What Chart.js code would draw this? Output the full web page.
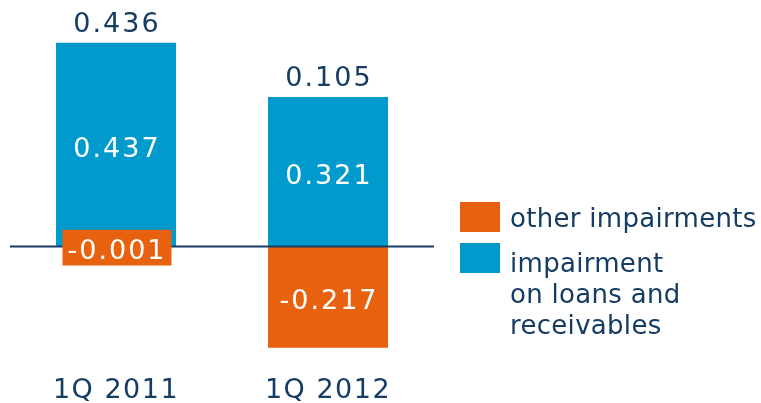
<!DOCTYPE html>
<html>
<head>
<meta charset="utf-8">
<script src="https://cdn.jsdelivr.net/npm/chart.js@4"></script>
<style>
  html, body { margin: 0; padding: 0; background: #fff; }
  #wrap { width: 761px; height: 403px; }
</style>
</head>
<body>
<div id="wrap"><canvas id="myChart" width="761" height="403"></canvas></div>
<script>
const categories = ['1Q 2011', '1Q 2012'];
const seriesNames = ['other impairments', 'impairment\non loans and\nreceivables'];
const otherImpairments = [-0.001, -0.217];
const loansImpairment = [0.437, 0.321];
const totals = [0.436, 0.105];

const navy = '#163c64';
const orange = '#e8610e';
const blue = '#009acd';
const numFont = '27px "DejaVu Sans"';

const labelsPlugin = {
  id: 'barLabels',
  afterDatasetsDraw(chart) {
    const ctx = chart.ctx;
    const y = chart.scales.y;
    const area = chart.chartArea;
    const zeroY = y.getPixelForValue(0);

    // zero line
    ctx.save();
    ctx.strokeStyle = navy;
    ctx.lineWidth = 2;
    ctx.beginPath();
    ctx.moveTo(area.left, zeroY);
    ctx.lineTo(area.right, zeroY);
    ctx.stroke();
    ctx.restore();

    ctx.save();
    ctx.font = numFont;
    ctx.letterSpacing = '2px';
    ctx.textAlign = 'center';
    ctx.textBaseline = 'alphabetic';

    chart.data.datasets.forEach((ds, di) => {
      const meta = chart.getDatasetMeta(di);
      meta.data.forEach((bar, i) => {
        const v = ds.data[i];
        const txt = v.toFixed(3);
        const cy = (bar.y + bar.base) / 2;
        if (Math.abs(bar.base - bar.y) < 30) {
          const w = ctx.measureText(txt).width + 10;
          ctx.fillStyle = ds.backgroundColor;
          ctx.fillRect(bar.x - w / 2 + 1, cy - 17, w, 35.7);
        }
        ctx.fillStyle = '#fff';
        ctx.fillText(txt, bar.x + 1, cy + 12);
      });
    });

    // totals above the positive stack
    ctx.fillStyle = navy;
    categories.forEach((c, i) => {
      let top = zeroY;
      let x = 0;
      chart.data.datasets.forEach((ds, di) => {
        const bar = chart.getDatasetMeta(di).data[i];
        x = bar.x;
        if (ds.data[i] > 0) top = Math.min(top, bar.y);
      });
      ctx.fillText(totals[i].toFixed(3), x + 1, top - 10.5);
    });
    ctx.restore();
  },
  afterDraw(chart) {
    const ctx = chart.ctx;
    ctx.save();
    ctx.font = '26px "DejaVu Sans"';
    ctx.letterSpacing = '0.3px';
    ctx.textAlign = 'left';
    ctx.textBaseline = 'alphabetic';
    const boxes = [202, 243];
    const baselines = [226.5, 271.5];
    chart.data.datasets.forEach((ds, di) => {
      ctx.fillStyle = ds.backgroundColor;
      ctx.fillRect(460, boxes[di], 40, 30);
      ctx.fillStyle = navy;
      ds.label.split('\n').forEach((line, li) => {
        ctx.fillText(line, 510, baselines[di] + li * 31);
      });
    });
    ctx.restore();
  }
};

const tickSpacing = {
  id: 'tickSpacing',
  beforeDraw(chart) {
    chart.ctx.letterSpacing = '1.5px';
  }
};

const data = {
  labels: categories,
  datasets: [
    {
      label: seriesNames[0],
      data: otherImpairments,
      backgroundColor: orange,
      borderWidth: 0
    },
    {
      label: seriesNames[1],
      data: loansImpairment,
      backgroundColor: blue,
      borderWidth: 0
    }
  ]
};

const config = {
  type: 'bar',
  data: data,
  options: {
    responsive: false,
    animation: false,
    layout: {
      padding: { left: 10, right: 327, top: 13.5, bottom: -16.5 }
    },
    datasets: {
      bar: { categoryPercentage: 1, barPercentage: 0.566 }
    },
    scales: {
      x: {
        stacked: true,
        grid: { display: false, drawTicks: false },
        border: { display: false },
        ticks: {
          color: navy,
          padding: 12,
          font: { family: 'DejaVu Sans', size: 27 }
        }
      },
      y: {
        stacked: true,
        display: false,
        min: -0.25,
        max: 0.5
      }
    },
    plugins: {
      legend: { display: false },
      tooltip: { enabled: false }
    }
  },
  plugins: [tickSpacing, labelsPlugin]
};

const ctx = document.getElementById('myChart').getContext('2d');
const chart = new Chart(ctx, config);
</script>
</body>
</html>
